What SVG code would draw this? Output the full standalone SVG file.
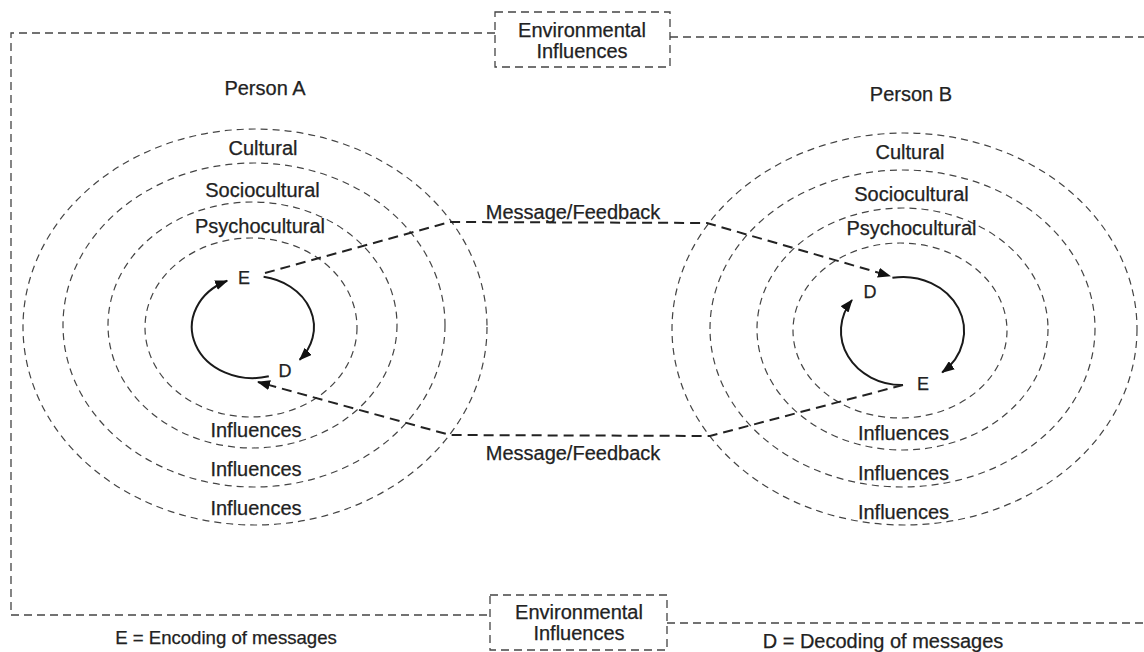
<svg xmlns="http://www.w3.org/2000/svg" width="1144" height="652" viewBox="0 0 1144 652">
  <defs>
    <style>
      text { font-family: "Liberation Sans", Arial, sans-serif; fill: #222; stroke: #222; stroke-width: 0.25; text-anchor: middle; }
      .lbl { font-size: 20px; }
      .ed { font-size: 18px; }
      .ring { fill: none; stroke: #444; stroke-width: 1.2; stroke-dasharray: 7 5; }
      .border { fill: none; stroke: #444; stroke-width: 1.3; stroke-dasharray: 8 5; }
      .msg { fill: none; stroke: #222; stroke-width: 2; stroke-dasharray: 10 6; }
      .loop { fill: none; stroke: #1a1a1a; stroke-width: 2; }
    </style>
    <marker id="head" viewBox="0 0 13 10" refX="12" refY="5" markerWidth="13" markerHeight="10" markerUnits="userSpaceOnUse" orient="auto">
      <path d="M0,0 L13,5 L0,10 z" fill="#111"/>
    </marker>
  </defs>
  <rect width="1144" height="652" fill="#fff"/>

  <!-- environment frame -->
  <g id="frame">
    <path class="border" d="M495,33 H11 V615 H490"/>
    <path class="border" d="M670,37 H1144"/>
    <path class="border" d="M667,623 H1144"/>
  </g>

  <g id="env-top">
    <rect class="border" x="495" y="12" width="175" height="55"/>
    <text class="lbl" x="582" y="37">Environmental</text>
    <text class="lbl" x="582" y="58">Influences</text>
  </g>

  <g id="env-bottom">
    <rect class="border" x="490" y="595" width="177" height="55"/>
    <text class="lbl" x="579" y="619">Environmental</text>
    <text class="lbl" x="579" y="640">Influences</text>
  </g>

  <!-- Person A -->
  <g id="person-a">
    <text class="lbl" x="265" y="95">Person A</text>
    <ellipse class="ring" cx="255" cy="327" rx="232" ry="198"/>
    <ellipse class="ring" cx="254" cy="325" rx="191" ry="162"/>
    <ellipse class="ring" cx="252.5" cy="325" rx="144.5" ry="123"/>
    <ellipse class="ring" cx="251" cy="327.5" rx="106" ry="89.5"/>
    <text class="lbl" x="263" y="155">Cultural</text>
    <text class="lbl" x="262.5" y="197">Sociocultural</text>
    <text class="lbl" x="260" y="233">Psychocultural</text>
    <text class="lbl" x="256" y="437">Influences</text>
    <text class="lbl" x="256" y="476">Influences</text>
    <text class="lbl" x="256" y="515">Influences</text>
    <path class="loop" marker-end="url(#head)" d="M263.6,276.8 A61,51 0 0 1 299.7,359.8"/>
    <path class="loop" marker-end="url(#head)" d="M268.8,376.3 A61,51 0 0 1 227.2,280.8"/>
    <text class="ed" x="244" y="284">E</text>
    <text class="ed" x="285" y="377">D</text>
  </g>

  <!-- Person B -->
  <g id="person-b">
    <text class="lbl" x="911" y="101">Person B</text>
    <ellipse class="ring" cx="904.5" cy="329" rx="232.5" ry="196"/>
    <ellipse class="ring" cx="902.5" cy="328.5" rx="192.5" ry="158.5"/>
    <ellipse class="ring" cx="902.5" cy="329" rx="145.5" ry="121"/>
    <ellipse class="ring" cx="900" cy="330.5" rx="107" ry="87.5"/>
    <text class="lbl" x="910" y="159">Cultural</text>
    <text class="lbl" x="911.5" y="201">Sociocultural</text>
    <text class="lbl" x="911.5" y="235">Psychocultural</text>
    <text class="lbl" x="903.5" y="440">Influences</text>
    <text class="lbl" x="903.5" y="480">Influences</text>
    <text class="lbl" x="903.5" y="519">Influences</text>
    <path class="loop" marker-end="url(#head)" d="M892.4,277.8 A61,54 0 0 1 942.2,372.4"/>
    <path class="loop" marker-end="url(#head)" d="M903,385 A61,54 0 0 1 852,300"/>
    <text class="ed" x="870" y="298">D</text>
    <text class="ed" x="923" y="390">E</text>
  </g>

  <!-- message / feedback connectors -->
  <g id="connectors">
    <path class="msg" marker-end="url(#head)" d="M265,273 L450,222 L707,223 L890,276"/>
    <path class="msg" marker-end="url(#head)" d="M903,385 L710,436 L450,435 L258,382"/>
    <text class="lbl" x="573" y="219">Message/Feedback</text>
    <text class="lbl" x="573" y="460">Message/Feedback</text>
  </g>

  <g id="legend">
    <text class="lbl" x="226" y="644" style="font-size:18.6px">E = Encoding of messages</text>
    <text class="lbl" x="883" y="648">D = Decoding of messages</text>
  </g>
</svg>
